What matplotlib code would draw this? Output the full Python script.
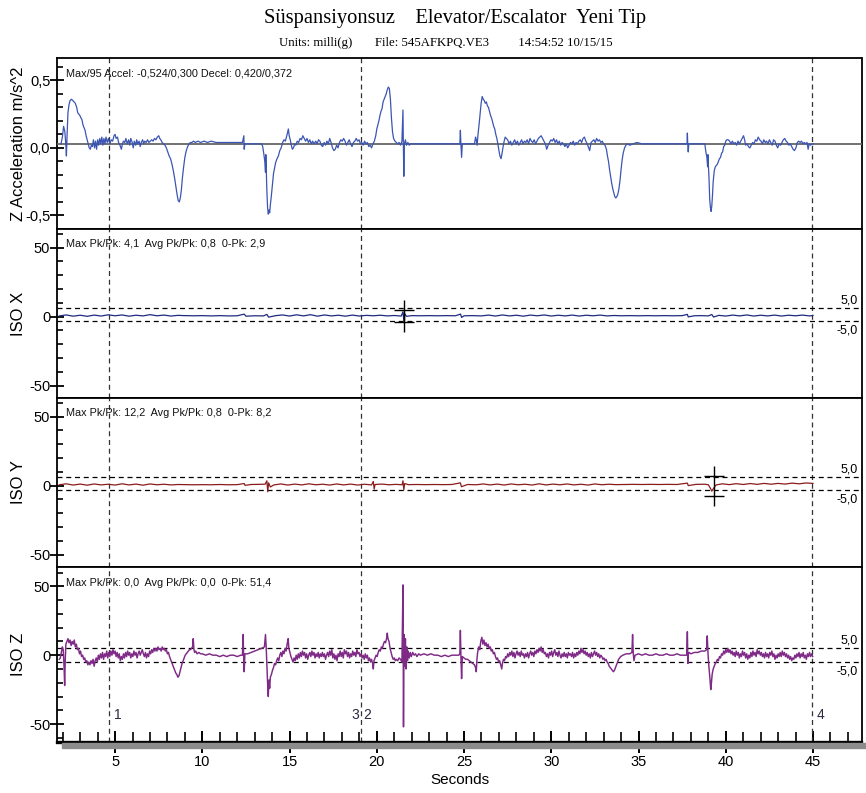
import matplotlib
matplotlib.use("Agg")
import matplotlib.pyplot as plt
from matplotlib.ticker import MultipleLocator, FuncFormatter
from matplotlib.patches import Rectangle
import matplotlib.transforms as mtransforms

# ---------------- data ----------------
TITLE = "Süspansiyonsuz    Elevator/Escalator  Yeni Tip"
SUBTITLE = "Units: milli(g)       File: 545AFKPQ.VE3         14:54:52 10/15/15"
panel_ylabels = ["Z Acceleration m/s^2", "ISO X", "ISO Y", "ISO Z"]
panel_notes = ["Max/95 Accel: -0,524/0,300 Decel: 0,420/0,372",
               "Max Pk/Pk: 4,1  Avg Pk/Pk: 0,8  0-Pk: 2,9",
               "Max Pk/Pk: 12,2  Avg Pk/Pk: 0,8  0-Pk: 8,2",
               "Max Pk/Pk: 0,0  Avg Pk/Pk: 0,0  0-Pk: 51,4"]
z_zero_line = 0.03
iso_band = [(6.5, -3.2), (6.5, -3.2), (5.0, -5.0)]
marker_times = [4.66, 19.1, 44.93]
marker_labels = [("1", 4.94), ("3", 19.0), ("2", 19.22), ("4", 45.2)]

Z_ACCEL = [
(1.90,0.03),(1.98,0.08),(2.05,0.16),(2.12,0.12),(2.18,0.02),(2.21,-0.06),(2.25,0.10),(2.30,0.26),
(2.36,0.32),(2.42,0.35),(2.50,0.36),(2.58,0.35),(2.65,0.34),(2.72,0.33),(2.80,0.30),(2.86,0.26),
(2.92,0.25),(2.98,0.24),(3.05,0.22),(3.10,0.21),(3.16,0.17),(3.22,0.15),(3.28,0.13),(3.34,0.09),
(3.40,0.06),(3.46,0.03),(3.52,0.00),(3.58,-0.01),(3.64,0.02),(3.70,0.01),(3.76,0.06),(3.82,0.00),
(3.88,0.05),(3.94,-0.01),(4.00,0.06),(4.06,0.02),(4.12,0.07),(4.18,0.03),(4.24,0.08),(4.30,0.02),
(4.36,0.07),(4.42,0.03),(4.48,0.08),(4.55,0.04),(4.62,0.07),(4.70,0.03),(4.78,0.06),(4.86,0.05),
(4.94,0.09),(5.00,0.10),(5.06,0.07),(5.14,0.08),(5.20,0.04),(5.28,0.02),(5.36,-0.01),(5.42,0.03),
(5.48,0.05),(5.56,0.04),(5.62,0.07),(5.70,0.03),(5.78,0.06),(5.84,0.02),(5.90,0.07),(5.98,0.04),
(6.04,0.00),(6.10,0.05),(6.18,0.02),(6.24,0.06),(6.30,0.03),(6.38,0.05),(6.44,0.01),(6.50,0.04),
(6.58,0.06),(6.64,0.03),(6.70,0.05),(6.78,0.04),(6.86,0.06),(6.94,0.04),(7.02,0.05),(7.10,0.06),
(7.18,0.05),(7.26,0.07),(7.34,0.06),(7.42,0.08),(7.50,0.09),(7.56,0.07),(7.62,0.06),(7.70,0.04),
(7.78,0.03),(7.86,0.02),(7.94,0.00),(8.02,-0.03),(8.10,-0.06),(8.18,-0.08),(8.26,-0.12),(8.34,-0.17),
(8.42,-0.23),(8.50,-0.30),(8.56,-0.35),(8.62,-0.39),(8.68,-0.40),(8.74,-0.37),(8.80,-0.31),(8.86,-0.22),
(8.92,-0.15),(9.00,-0.07),(9.08,-0.02),(9.16,0.01),(9.24,0.03),(9.32,0.04),(9.40,0.04),(9.50,0.05),
(9.60,0.04),(9.75,0.05),(9.90,0.04),(10.10,0.05),(10.30,0.04),(10.50,0.05),(10.80,0.04),(11.10,0.04),
(11.40,0.04),(11.70,0.04),(12.00,0.04),(12.30,0.04),(12.38,0.09),(12.40,-0.01),(12.44,0.03),(13.40,0.03),
(13.46,0.01),(13.52,-0.04),(13.58,-0.10),(13.62,-0.18),(13.64,-0.05),(13.66,-0.14),(13.70,-0.32),(13.74,-0.44),
(13.78,-0.49),(13.82,-0.46),(13.86,-0.48),(13.90,-0.42),(13.96,-0.35),(14.02,-0.27),(14.08,-0.19),(14.14,-0.15),
(14.20,-0.11),(14.28,-0.08),(14.36,-0.06),(14.44,-0.02),(14.52,0.00),(14.60,0.04),(14.68,0.06),(14.76,0.05),
(14.82,0.08),(14.88,0.11),(14.93,0.14),(14.98,0.09),(15.04,0.06),(15.10,0.02),(15.16,-0.01),(15.22,0.00),
(15.30,0.03),(15.36,0.02),(15.44,0.05),(15.52,0.04),(15.60,0.07),(15.68,0.06),(15.76,0.09),(15.84,0.07),
(15.92,0.05),(16.00,0.07),(16.08,0.04),(16.16,0.06),(16.24,0.03),(16.32,0.05),(16.40,0.03),(16.50,0.05),
(16.58,0.03),(16.66,0.06),(16.74,0.05),(16.82,0.02),(16.90,0.01),(16.98,0.04),(17.06,0.02),(17.14,0.05),
(17.22,0.03),(17.30,0.07),(17.38,0.04),(17.46,0.00),(17.54,-0.02),(17.62,-0.01),(17.70,0.02),(17.78,0.00),
(17.86,0.04),(17.94,0.06),(18.02,0.05),(18.10,0.07),(18.18,0.05),(18.26,0.02),(18.34,0.04),(18.42,0.06),
(18.50,0.03),(18.58,0.01),(18.66,0.04),(18.74,0.05),(18.82,0.07),(18.90,0.05),(18.98,0.06),(19.06,0.03),
(19.14,0.04),(19.22,0.02),(19.30,0.05),(19.38,0.03),(19.46,0.04),(19.54,0.01),(19.62,0.02),(19.70,0.00),
(19.78,0.03),(19.86,0.05),(19.94,0.09),(20.00,0.14),(20.06,0.17),(20.12,0.20),(20.18,0.24),(20.24,0.27),
(20.30,0.29),(20.36,0.34),(20.42,0.36),(20.48,0.38),(20.54,0.40),(20.60,0.43),(20.66,0.45),(20.72,0.44),
(20.78,0.36),(20.84,0.22),(20.90,0.12),(20.96,0.07),(21.04,0.05),(21.12,0.04),(21.20,0.03),(21.28,0.04),
(21.36,0.02),(21.44,0.05),(21.50,0.28),(21.52,0.04),(21.55,-0.21),(21.58,0.03),(21.64,0.06),(21.70,0.02),
(21.78,0.04),(21.86,0.02),(21.94,0.03),(22.10,0.03),(22.40,0.03),(22.80,0.03),(23.20,0.03),(23.60,0.03),
(24.00,0.03),(24.40,0.03),(24.76,0.03),(24.79,0.13),(24.82,0.03),(24.86,-0.07),(24.90,0.03),(25.30,0.03),
(25.60,0.03),(25.66,0.08),(25.70,0.06),(25.75,0.02),(25.80,0.10),(25.86,0.17),(25.92,0.25),(25.98,0.33),
(26.04,0.38),(26.10,0.36),(26.16,0.35),(26.22,0.33),(26.28,0.34),(26.34,0.31),(26.40,0.30),(26.46,0.27),
(26.52,0.24),(26.58,0.22),(26.64,0.19),(26.70,0.16),(26.76,0.14),(26.82,0.10),(26.88,0.07),(26.94,0.03),
(27.00,-0.02),(27.06,-0.06),(27.12,-0.08),(27.18,-0.04),(27.24,0.01),(27.30,0.05),(27.36,0.08),(27.42,0.07),
(27.50,0.06),(27.58,0.03),(27.66,0.05),(27.74,0.02),(27.82,0.04),(27.90,0.06),(27.98,0.03),(28.06,0.05),
(28.14,0.02),(28.22,0.04),(28.30,0.06),(28.38,0.03),(28.46,0.05),(28.54,0.04),(28.62,0.06),(28.70,0.03),
(28.78,0.07),(28.86,0.05),(28.94,0.04),(29.02,0.06),(29.10,0.03),(29.18,0.05),(29.26,0.07),(29.34,0.08),
(29.42,0.09),(29.50,0.07),(29.58,0.05),(29.66,0.03),(29.74,-0.01),(29.82,0.02),(29.90,0.04),(29.98,0.06),
(30.06,0.05),(30.14,0.07),(30.22,0.04),(30.30,0.06),(30.38,0.03),(30.46,0.05),(30.54,0.02),(30.62,0.04),
(30.70,0.03),(30.78,0.01),(30.86,0.03),(30.94,0.00),(31.02,0.02),(31.10,0.04),(31.18,0.03),(31.26,0.05),
(31.34,0.02),(31.42,0.04),(31.50,0.03),(31.58,0.05),(31.66,0.06),(31.74,0.04),(31.82,0.07),(31.90,0.08),
(31.98,0.05),(32.06,0.03),(32.14,0.00),(32.20,-0.02),(32.28,0.04),(32.36,0.05),(32.44,0.06),(32.52,0.04),
(32.60,0.07),(32.68,0.05),(32.76,0.06),(32.84,0.04),(32.92,0.05),(33.00,0.03),(33.08,0.02),(33.16,-0.01),
(33.22,-0.06),(33.28,-0.10),(33.34,-0.16),(33.40,-0.21),(33.46,-0.26),(33.52,-0.30),(33.58,-0.33),(33.64,-0.36),
(33.70,-0.37),(33.76,-0.36),(33.82,-0.34),(33.88,-0.30),(33.94,-0.24),(34.00,-0.16),(34.06,-0.09),(34.12,-0.04),
(34.20,0.00),(34.28,0.02),(34.36,0.03),(34.50,0.02),(34.70,0.03),(34.90,0.04),(35.20,0.03),(35.60,0.03),
(36.00,0.03),(36.40,0.03),(36.80,0.03),(37.20,0.03),(37.60,0.03),(37.78,0.03),(37.80,0.11),(37.82,0.03),
(37.85,-0.03),(37.88,0.03),(38.20,0.03),(38.60,0.03),(38.80,0.03),(38.86,-0.03),(38.92,-0.07),(38.96,-0.14),
(38.98,-0.05),(39.00,-0.12),(39.04,-0.22),(39.08,-0.38),(39.12,-0.44),(39.16,-0.47),(39.20,-0.43),(39.24,-0.35),
(39.28,-0.25),(39.34,-0.17),(39.40,-0.14),(39.46,-0.13),(39.52,-0.12),(39.58,-0.10),(39.64,-0.08),(39.70,-0.07),
(39.76,-0.04),(39.82,-0.03),(39.88,0.01),(39.94,0.02),(40.00,0.05),(40.06,0.06),(40.14,0.06),(40.22,0.05),
(40.30,0.03),(40.38,0.05),(40.46,0.03),(40.54,0.04),(40.62,0.02),(40.70,0.05),(40.78,0.03),(40.86,0.05),
(40.94,0.07),(41.02,0.09),(41.08,0.06),(41.14,0.02),(41.22,0.03),(41.30,0.01),(41.38,0.00),(41.46,0.02),
(41.54,0.04),(41.62,0.03),(41.70,0.06),(41.78,0.05),(41.86,0.08),(41.94,0.06),(42.02,0.05),(42.10,0.03),
(42.18,0.06),(42.26,0.04),(42.34,0.05),(42.42,0.03),(42.50,0.06),(42.58,0.04),(42.66,0.02),(42.74,0.06),
(42.82,0.05),(42.90,0.02),(42.98,0.00),(43.06,0.03),(43.14,0.02),(43.22,0.04),(43.30,0.06),(43.38,0.07),
(43.46,0.05),(43.54,0.04),(43.62,0.02),(43.70,0.03),(43.78,0.01),(43.86,-0.01),(43.94,-0.02),(44.02,0.00),
(44.10,0.04),(44.18,0.05),(44.26,0.04),(44.34,0.05),(44.42,0.03),(44.50,0.04),(44.58,0.03),(44.66,0.04),
(44.72,-0.01),(44.78,0.03),(44.86,0.02),(44.94,0.03),(45.02,0.03)]

ISO_X = [
(1.8,0.5),(2.2,1.2),(2.6,0.3),(3.0,1.0),(3.4,0.2),(3.8,1.1),(4.2,0.4),(4.6,1.3),(5.0,0.6),(5.4,1.2),
(5.8,0.3),(6.2,1.0),(6.6,0.5),(7.0,1.4),(7.4,0.6),(7.8,1.1),(8.2,0.4),(8.6,0.9),(9.0,0.7),(9.5,0.6),
(10.0,0.7),(10.5,0.5),(11.0,0.7),(11.5,0.5),(12.0,0.6),(12.4,1.8),(12.5,0.3),(13.0,0.6),(13.5,0.5),(13.7,1.6),
(13.8,-0.4),(14.2,0.7),(14.6,1.2),(15.0,0.4),(15.4,1.3),(15.8,0.5),(16.2,1.4),(16.6,0.3),(17.0,1.2),(17.4,0.5),
(17.8,1.0),(18.2,0.3),(18.6,1.1),(19.0,0.4),(19.4,0.9),(19.8,0.6),(20.2,1.0),(20.6,0.5),(21.0,0.8),(21.4,0.4),
(21.5,3.5),(21.55,-3.0),(21.6,2.0),(21.7,0.2),(22.0,0.7),(22.5,0.6),(23.0,0.7),(23.5,0.6),(24.0,0.7),(24.5,0.6),
(24.8,1.8),(24.86,-0.6),(25.0,0.6),(25.5,0.7),(26.0,0.5),(26.4,1.1),(26.8,0.4),(27.2,1.2),(27.6,0.5),(28.0,1.0),
(28.4,0.3),(28.8,1.1),(29.2,0.6),(29.6,1.2),(30.0,0.4),(30.4,1.0),(30.8,0.5),(31.2,1.1),(31.6,0.4),(32.0,1.0),
(32.4,0.6),(32.8,1.1),(33.2,0.5),(33.6,0.8),(34.0,0.6),(34.5,0.7),(35.0,0.6),(35.5,0.7),(36.0,0.6),(36.5,0.7),
(37.0,0.6),(37.5,0.7),(37.8,1.6),(37.85,-0.2),(38.2,0.6),(38.6,0.7),(39.0,0.5),(39.2,1.5),(39.3,-0.3),(39.6,0.9),
(40.0,0.4),(40.4,1.1),(40.8,0.5),(41.2,1.2),(41.6,0.4),(42.0,1.0),(42.4,0.5),(42.8,1.1),(43.2,0.4),(43.6,1.0),
(44.0,0.6),(44.4,1.1),(44.8,0.5),(45.0,0.8)]

ISO_Y = [
(1.8,0.6),(2.2,1.3),(2.6,0.4),(3.0,1.1),(3.4,0.3),(3.8,1.2),(4.2,0.5),(4.6,1.0),(5.0,0.4),(5.4,1.3),
(5.8,0.5),(6.2,1.1),(6.6,0.3),(7.0,1.2),(7.4,0.6),(7.8,1.0),(8.2,0.5),(8.6,0.8),(9.0,0.7),(9.5,0.6),
(10.0,0.7),(10.5,0.6),(11.0,0.8),(11.5,0.6),(12.0,0.7),(12.4,1.5),(12.45,0.2),(12.8,0.8),(13.2,0.9),(13.6,1.0),
(13.7,3.5),(13.75,-4.5),(13.8,2.0),(13.9,-1.0),(14.1,0.5),(14.5,1.2),(14.9,0.4),(15.3,1.1),(15.7,0.5),(16.1,1.3),
(16.5,0.6),(16.9,1.0),(17.3,0.4),(17.7,1.2),(18.1,0.5),(18.5,1.1),(18.9,0.4),(19.3,1.0),(19.7,0.5),(19.8,3.0),
(19.85,-2.5),(19.9,0.8),(20.3,1.1),(20.7,0.6),(21.1,0.9),(21.45,0.6),(21.5,3.5),(21.55,-3.0),(21.6,1.5),(21.8,0.7),
(22.3,0.8),(22.8,0.7),(23.3,0.8),(23.8,0.7),(24.3,0.8),(24.79,2.0),(24.85,-0.8),(25.2,0.8),(25.7,0.6),(26.1,1.2),
(26.5,0.5),(26.9,1.1),(27.3,0.4),(27.7,1.2),(28.1,0.6),(28.5,1.0),(28.9,0.4),(29.3,1.3),(29.7,0.5),(30.1,1.1),
(30.5,0.6),(30.9,1.2),(31.3,0.5),(31.7,1.0),(32.1,0.4),(32.5,1.2),(32.9,0.6),(33.3,1.0),(33.7,0.7),(34.2,0.8),
(34.7,0.9),(35.2,0.8),(35.7,0.9),(36.2,0.8),(36.7,0.9),(37.2,0.8),(37.8,1.8),(37.85,0.0),(38.3,0.9),(38.8,1.0),
(39.0,0.6),(39.1,-1.5),(39.2,-4.0),(39.3,-2.0),(39.45,0.5),(39.8,1.3),(40.2,0.7),(40.6,1.4),(41.0,0.8),(41.4,1.5),
(41.8,0.9),(42.2,1.6),(42.6,1.0),(43.0,1.6),(43.4,1.1),(43.8,1.8),(44.2,1.3),(44.6,1.9),(45.0,1.6)]

ISO_Z = [
(1.80,-3),(1.86,-2),(1.92,2),(1.98,6),(2.03,4),(2.08,-10),(2.11,-22),(2.14,-5),(2.18,8),(2.24,10),
(2.30,12),(2.36,9),(2.42,11),(2.48,7),(2.54,10),(2.60,8),(2.66,11),(2.72,6),(2.78,8),(2.84,4),
(2.90,5),(2.96,1),(3.02,3),(3.08,-1),(3.14,0),(3.20,-3),(3.26,-2),(3.32,-5),(3.38,-4),(3.44,-7),
(3.50,-5),(3.56,-7),(3.62,-4),(3.68,-6),(3.74,-3),(3.80,-8),(3.86,-4),(3.92,-2),(3.98,-5),(4.04,0),
(4.10,-3),(4.16,1),(4.22,-2),(4.28,2),(4.34,-3),(4.40,1),(4.46,-1),(4.52,3),(4.58,-2),(4.64,2),
(4.70,-1),(4.76,3),(4.82,0),(4.88,4),(4.94,1),(5.00,3),(5.06,-1),(5.12,2),(5.18,-2),(5.24,1),
(5.30,-4),(5.36,-1),(5.42,-3),(5.48,1),(5.54,-2),(5.60,2),(5.66,-1),(5.72,3),(5.78,0),(5.84,2),
(5.90,-2),(5.96,1),(6.02,-1),(6.08,3),(6.14,0),(6.20,2),(6.26,-2),(6.32,1),(6.38,3),(6.44,0),
(6.50,2),(6.56,4),(6.62,1),(6.68,-1),(6.74,2),(6.80,-2),(6.86,1),(6.92,-1),(6.98,3),(7.04,1),
(7.10,4),(7.16,2),(7.22,5),(7.28,3),(7.34,5),(7.40,3),(7.46,6),(7.52,4),(7.58,5),(7.64,3),
(7.70,6),(7.76,4),(7.82,5),(7.88,3),(7.94,4),(8.00,1),(8.06,2),(8.12,-1),(8.18,-3),(8.24,-5),
(8.30,-7),(8.36,-9),(8.42,-11),(8.48,-13),(8.54,-14),(8.60,-16),(8.66,-15),(8.72,-12),(8.78,-9),(8.84,-6),
(8.90,-4),(8.96,-2),(9.02,0),(9.08,1),(9.14,2),(9.20,3),(9.26,4),(9.32,4),(9.38,5),(9.44,6),
(9.48,12),(9.52,4),(9.56,2),(9.62,3),(9.70,1),(9.80,2),(9.90,1),(10.0,1),(10.2,0),(10.4,1),
(10.6,0),(10.8,0),(11.0,-1),(11.2,0),(11.4,-1),(11.6,0),(11.8,0),(12.0,-1),(12.2,0),(12.30,0),
(12.34,15),(12.37,-2),(12.40,-12),(12.44,1),(12.6,1),(12.8,2),(13.0,3),(13.2,4),(13.4,5),(13.56,6),
(13.62,15),(13.66,6),(13.70,-8),(13.74,-20),(13.78,-30),(13.82,-18),(13.86,-24),(13.90,-16),(13.96,-14),(14.02,-11),
(14.08,-9),(14.14,-6),(14.20,-7),(14.26,-4),(14.32,-2),(14.38,-4),(14.44,0),(14.50,2),(14.56,-1),(14.62,3),
(14.68,1),(14.74,5),(14.80,3),(14.86,8),(14.92,12),(14.96,5),(15.02,2),(15.08,-1),(15.14,-3),(15.20,-5),
(15.26,-2),(15.32,-4),(15.38,0),(15.44,-3),(15.50,1),(15.56,-2),(15.62,2),(15.68,-1),(15.74,3),(15.80,0),
(15.86,2),(15.92,-2),(15.98,1),(16.04,-3),(16.10,0),(16.16,2),(16.22,-1),(16.28,3),(16.34,0),(16.40,2),
(16.46,-2),(16.52,1),(16.58,-1),(16.64,2),(16.70,-2),(16.76,1),(16.82,-1),(16.88,2),(16.94,-1),(17.00,1),
(17.06,-3),(17.12,0),(17.18,2),(17.24,-1),(17.30,3),(17.36,0),(17.42,4),(17.48,-2),(17.54,1),(17.60,-3),
(17.66,0),(17.72,-4),(17.78,1),(17.84,-1),(17.90,3),(17.96,-1),(18.02,2),(18.08,-2),(18.14,4),(18.20,1),
(18.26,3),(18.32,-1),(18.38,2),(18.44,-2),(18.50,1),(18.56,-1),(18.62,3),(18.68,0),(18.74,2),(18.80,-1),
(18.86,4),(18.92,1),(18.98,2),(19.04,-1),(19.10,1),(19.16,-2),(19.22,0),(19.28,-3),(19.34,1),(19.40,-2),
(19.46,0),(19.52,-4),(19.58,-2),(19.64,-5),(19.70,-3),(19.76,-6),(19.80,-10),(19.84,-4),(19.90,-2),(19.96,0),
(20.02,-1),(20.08,2),(20.14,4),(20.20,3),(20.26,6),(20.32,5),(20.38,8),(20.44,10),(20.50,9),(20.56,12),
(20.60,16),(20.64,12),(20.70,10),(20.76,5),(20.82,2),(20.88,-1),(20.94,-3),(21.00,-2),(21.06,-4),(21.12,-3),
(21.20,-4),(21.28,-2),(21.36,-3),(21.44,-5),(21.50,51),(21.53,-52),(21.56,15),(21.60,-8),(21.64,12),(21.68,-10),
(21.72,6),(21.76,-4),(21.80,3),(21.86,-2),(21.92,2),(21.98,-1),(22.06,2),(22.14,0),(22.22,1),(22.30,-1),
(22.40,1),(22.50,0),(22.70,1),(22.90,0),(23.10,1),(23.30,0),(23.50,0),(23.70,-1),(23.90,0),(24.10,-1),
(24.30,0),(24.50,0),(24.70,0),(24.76,1),(24.79,18),(24.82,0),(24.86,-17),(24.90,-1),(25.00,-2),(25.10,-3),
(25.20,-3),(25.30,-4),(25.40,-5),(25.50,-6),(25.60,-7),(25.66,-9),(25.70,-12),(25.74,-3),(25.78,2),(25.84,6),
(25.90,4),(25.96,10),(26.02,13),(26.08,8),(26.14,11),(26.20,7),(26.26,9),(26.32,6),(26.38,8),(26.44,5),
(26.50,6),(26.56,3),(26.62,4),(26.68,1),(26.74,2),(26.80,-1),(26.86,-3),(26.92,-2),(26.98,-5),(27.04,-4),
(27.10,-7),(27.16,-10),(27.20,-6),(27.26,-3),(27.32,-4),(27.38,-1),(27.44,-2),(27.50,1),(27.56,-1),(27.62,2),
(27.68,0),(27.74,3),(27.80,-1),(27.86,2),(27.92,-2),(27.98,1),(28.04,3),(28.10,0),(28.16,2),(28.22,-1),
(28.28,3),(28.34,0),(28.40,1),(28.46,-2),(28.52,1),(28.58,-1),(28.64,2),(28.70,-2),(28.76,1),(28.82,3),
(28.88,0),(28.94,2),(29.00,-1),(29.06,3),(29.12,1),(29.18,4),(29.24,2),(29.30,5),(29.36,3),(29.42,6),
(29.48,2),(29.54,4),(29.60,1),(29.66,2),(29.72,-1),(29.78,1),(29.84,-2),(29.90,2),(29.96,0),(30.02,3),
(30.08,-1),(30.14,2),(30.20,4),(30.26,0),(30.32,2),(30.38,-1),(30.44,3),(30.50,0),(30.56,-2),(30.62,1),
(30.68,-1),(30.74,2),(30.80,-1),(30.86,1),(30.92,-2),(30.98,2),(31.04,0),(31.10,1),(31.16,-1),(31.22,2),
(31.28,-2),(31.34,1),(31.40,-1),(31.46,2),(31.52,0),(31.58,3),(31.64,1),(31.70,5),(31.76,2),(31.82,4),
(31.88,1),(31.94,3),(32.00,0),(32.06,2),(32.12,-1),(32.18,1),(32.24,-2),(32.30,2),(32.36,-1),(32.42,1),
(32.48,3),(32.54,0),(32.60,2),(32.66,-1),(32.72,1),(32.78,-2),(32.84,0),(32.90,-1),(32.96,-3),(33.02,-2),
(33.08,-4),(33.14,-3),(33.20,-5),(33.26,-6),(33.32,-8),(33.38,-9),(33.44,-10),(33.50,-11),(33.56,-12),(33.62,-11),
(33.68,-9),(33.74,-7),(33.80,-5),(33.86,-3),(33.92,-2),(33.98,-1),(34.10,0),(34.30,1),(34.50,1),(34.62,2),
(34.66,15),(34.70,1),(34.74,-4),(34.80,0),(35.00,1),(35.20,0),(35.40,1),(35.60,0),(35.80,0),(36.00,1),
(36.20,0),(36.40,0),(36.60,1),(36.80,0),(37.00,0),(37.20,1),(37.40,0),(37.60,0),(37.76,0),(37.80,17),
(37.83,-6),(37.86,1),(37.90,2),(38.00,1),(38.20,2),(38.40,2),(38.60,3),(38.80,3),(38.90,4),(38.94,14),
(38.98,2),(39.02,-6),(39.06,-12),(39.10,-18),(39.14,-25),(39.18,-20),(39.22,-14),(39.28,-10),(39.34,-8),(39.40,-6),
(39.46,-5),(39.52,-3),(39.58,-4),(39.64,-1),(39.70,-2),(39.76,1),(39.82,0),(39.88,3),(39.94,1),(40.00,4),
(40.06,2),(40.12,5),(40.18,2),(40.24,4),(40.30,1),(40.36,3),(40.42,0),(40.48,2),(40.54,-1),(40.60,3),
(40.66,0),(40.72,2),(40.78,-2),(40.84,1),(40.90,-1),(40.96,3),(41.02,0),(41.08,2),(41.14,-2),(41.20,1),
(41.26,-3),(41.32,0),(41.38,-2),(41.44,2),(41.50,-1),(41.56,3),(41.62,0),(41.68,2),(41.74,-1),(41.80,4),
(41.86,1),(41.92,3),(41.98,0),(42.04,2),(42.10,-1),(42.16,1),(42.22,-2),(42.28,2),(42.34,-1),(42.40,1),
(42.46,-2),(42.52,2),(42.58,0),(42.64,3),(42.70,-1),(42.76,1),(42.82,-3),(42.88,0),(42.94,-2),(43.00,1),
(43.06,-1),(43.12,2),(43.18,-1),(43.24,3),(43.30,0),(43.36,2),(43.42,-1),(43.48,1),(43.54,-2),(43.60,0),
(43.66,-3),(43.72,-1),(43.78,-4),(43.84,-2),(43.90,-3),(43.96,0),(44.02,-2),(44.08,1),(44.14,-1),(44.20,2),
(44.26,-2),(44.32,1),(44.38,-1),(44.44,2),(44.50,-2),(44.56,0),(44.62,-3),(44.68,1),(44.74,-1),(44.80,2),
(44.86,-1),(44.92,1),(44.98,-1)]

iso_x_marks = [(21.55, 5.0), (21.55, -4.0)]
iso_y_marks = [(39.3, 7.3), (39.3, -7.3)]

# ---------------- styling / layout ----------------
W, H = 866, 793
SANS = ['Liberation Sans Narrow', 'Liberation Sans', 'DejaVu Sans']
SERIF = ['Liberation Serif', 'DejaVu Serif']
plt.rcParams['font.family'] = SANS

fig = plt.figure(figsize=(W / 100, H / 100), dpi=100)
left_px, right_px = 57.5, 861.5
panel_px = [(58, 229), (229, 398), (398, 567), (567, 742)]
ylims = [(-0.6, 0.665), (-59, 63.5), (-59, 63.5), (-63, 64)]
colors = ['#3b55b3', '#1f2a80', '#8b1c1c', '#7e2a86']
widths = [0.9, 0.9, 0.9, 1.05]
series = [Z_ACCEL, ISO_X, ISO_Y, ISO_Z]

axes = []
for i, (top, bot) in enumerate(panel_px):
    ax = fig.add_axes([left_px / W, 1 - bot / H, (right_px - left_px) / W, (bot - top) / H])
    axes.append(ax)
    ax.set_xlim(1.7, 47.78)
    ax.set_ylim(*ylims[i])
    for sp in ax.spines.values():
        sp.set_linewidth(1.3)
        sp.set_color('black')
    t, v = zip(*series[i])
    ax.plot(t, v, color=colors[i], lw=widths[i], zorder=4)
    for mt in marker_times:
        ax.axvline(mt, color='#333333', lw=0.9, dashes=(4, 3), zorder=2)
    if i == 0:
        ax.axhline(z_zero_line, color='#666666', lw=1.3, zorder=3)
        ax.yaxis.set_major_locator(MultipleLocator(0.5))
        ax.yaxis.set_minor_locator(MultipleLocator(0.1))
        ax.yaxis.set_major_formatter(FuncFormatter(lambda val, p: f"{val:.1f}".replace('.', ',')))
    else:
        hi, lo = iso_band[i - 1]
        ax.axhline(hi, color='black', lw=0.9, dashes=(4, 3), zorder=2)
        ax.axhline(lo, color='black', lw=0.9, dashes=(4, 3), zorder=2)
        tr = mtransforms.blended_transform_factory(ax.transAxes, ax.transData)
        ax.text(0.9956, hi + 5.5, "5,0", transform=tr, ha='right', va='center', fontsize=9)
        ax.text(0.9956, lo - 6.8, "-5,0", transform=tr, ha='right', va='center', fontsize=9)
        ax.yaxis.set_major_locator(MultipleLocator(50))
        ax.yaxis.set_minor_locator(MultipleLocator(10))
        ax.yaxis.set_major_formatter(FuncFormatter(lambda val, p: f"{val:.0f}"))
    ax.tick_params(axis='y', which='major', direction='inout', length=9.4, width=1.3,
                   labelsize=10.5, pad=0.5, right=False)
    ax.tick_params(axis='y', which='minor', direction='in', length=4.5, width=1.2, right=False)
    ax.set_ylabel(panel_ylabels[i], fontsize=12)
    ax.yaxis.set_label_coords(-0.039, 0.5)
    ax.text(0.0106, 0.91, panel_notes[i], transform=ax.transAxes, ha='left', va='center',
            fontsize=7.8, color='#111111')
    if i < 3:
        ax.tick_params(axis='x', which='both', bottom=False, top=False, labelbottom=False)

axes[1].plot(*zip(*iso_x_marks), ls='none', marker='+', ms=14, mew=1.0, color='black', zorder=5)
axes[2].plot(*zip(*iso_y_marks), ls='none', marker='+', ms=14, mew=1.0, color='black', zorder=5)

axb = axes[3]
axb.spines['bottom'].set_linewidth(2.4)
axb.xaxis.set_major_locator(MultipleLocator(5))
axb.xaxis.set_minor_locator(MultipleLocator(1))
axb.xaxis.set_major_formatter(FuncFormatter(lambda val, p: f"{val:.0f}"))
axb.tick_params(axis='x', which='major', direction='inout', length=16, width=1.4, labelsize=10.5, pad=1)
axb.tick_params(axis='x', which='minor', direction='in', length=7.2, width=1.2)
axb.set_xlabel("Seconds", fontsize=11, labelpad=3)
for lab, lt in marker_labels:
    ha = 'right' if lab == "3" else 'left'
    axb.text(lt, -43.5, lab, ha=ha, va='center', fontsize=10, color='#2a2a40')

# shadow under the time axis
fig.patches.append(Rectangle((62 / W, 1 - 748 / H), (W - 62) / W, 5.5 / H,
                             transform=fig.transFigure, color='#8c8c8c', zorder=0))

fig.text(455 / W, 1 - 18 / H, TITLE, ha='center', va='center', fontsize=14.8, family=SERIF)
fig.text(446 / W, 1 - 43 / H, SUBTITLE, ha='center', va='center', fontsize=9.2, family=SERIF)

fig.savefig("out.png", dpi=100)
